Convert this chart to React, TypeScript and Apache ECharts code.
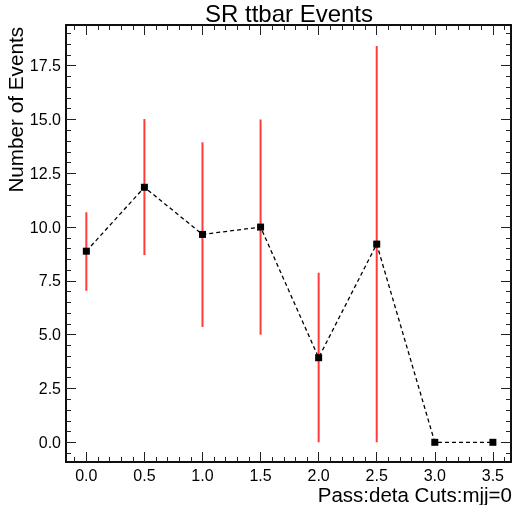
import React, { useEffect, useRef } from "react";
import * as echarts from "echarts";

// ---- data ----
const xValues = [0, 0.5, 1.0, 1.5, 2.0, 2.5, 3.0, 3.5];
const events = [8.88, 11.85, 9.66, 10.0, 3.93, 9.21, 0, 0];
const errLow = [7.04, 8.7, 5.36, 5.0, 0, 0, null, null];
const errHigh = [10.69, 15.02, 13.94, 15.0, 7.88, 18.41, null, null];
const xTickLabels = [0, 0.5, 1.0, 1.5, 2.0, 2.5, 3.0, 3.5];
const yTickLabels = [0, 2.5, 5.0, 7.5, 10.0, 12.5, 15.0, 17.5];

const X_MIN = -0.175;
const X_MAX = 3.656;
const Y_MIN = -0.915;
const Y_MAX = 19.39;

const FONT = "'Liberation Sans', Arial, Helvetica, sans-serif";

function range(start: number, end: number, step: number): number[] {
  const out: number[] = [];
  for (let v = start; v <= end + 1e-9; v += step) out.push(Math.round(v * 1000) / 1000);
  return out;
}
const xMinor = range(-0.1, 3.6, 0.1);
const yMinor = range(-0.5, 19.0, 0.5);

function axis(
  kind: "x" | "y",
  position: string,
  tickValues: number[],
  len: number,
  labels: number[] | null
) {
  return {
    type: "value",
    position,
    min: kind === "x" ? X_MIN : Y_MIN,
    max: kind === "x" ? X_MAX : Y_MAX,
    axisLine: { show: true, onZero: false, lineStyle: { color: "#000", width: 1.5 } },
    axisTick: {
      show: true,
      inside: true,
      length: len,
      customValues: tickValues,
      lineStyle: { color: "#222", width: 1 },
    },
    axisLabel: labels
      ? {
          show: true,
          customValues: labels,
          formatter: (v: number) => v.toFixed(1),
          margin: 5,
          color: "#000",
          fontSize: 16,
          fontFamily: FONT,
        }
      : { show: false },
    splitLine: { show: false },
  };
}

function label(text: string, x: number, y: number, size: number, align: string, rotation = 0) {
  return {
    type: "text",
    x,
    y,
    rotation,
    style: {
      text,
      fontSize: size,
      fontFamily: FONT,
      fill: "#000",
      align,
      verticalAlign: "middle",
      textAlign: align,
      textVerticalAlign: "middle",
    },
  };
}

export default function App() {
  const ref = useRef<HTMLDivElement>(null);
  useEffect(() => {
    if (!ref.current) return;
    const chart = echarts.init(ref.current, null, { renderer: "svg" });
    const errData = xValues
      .map((x, i) => [x, errLow[i], errHigh[i]])
      .filter((d) => d[1] !== null && d[2] !== null);
    chart.setOption({
      animation: false,
      grid: { left: 66, right: 3, top: 25, bottom: 43, containLabel: false },
      xAxis: [
        axis("x", "bottom", xTickLabels, 10, xTickLabels),
        axis("x", "bottom", xMinor, 5, null),
        axis("x", "top", xTickLabels, 10, null),
        axis("x", "top", xMinor, 5, null),
      ],
      yAxis: [
        axis("y", "left", yTickLabels, 10, yTickLabels),
        axis("y", "left", yMinor, 5, null),
        axis("y", "right", yTickLabels, 10, null),
        axis("y", "right", yMinor, 5, null),
      ],
      graphic: [
        label("SR ttbar Events", 289, 13, 24, "center"),
        label("Number of Events", 15, 27, 20.7, "right", Math.PI / 2),
        label("Pass:deta Cuts:mjj=0", 512, 494, 20.5, "right"),
      ],
      series: [
        {
          type: "custom",
          xAxisIndex: 0,
          yAxisIndex: 0,
          z: 1,
          data: errData,
          renderItem: (params: any, api: any) => {
            const p1 = api.coord([api.value(0), api.value(1)]);
            const p2 = api.coord([api.value(0), api.value(2)]);
            return {
              type: "line",
              shape: { x1: p1[0], y1: p1[1], x2: p2[0], y2: p2[1] },
              style: { stroke: "#ff3b3b", lineWidth: 2 },
            };
          },
        },
        {
          type: "line",
          xAxisIndex: 0,
          yAxisIndex: 0,
          z: 3,
          data: xValues.map((x, i) => [x, events[i]]),
          symbol: "rect",
          symbolSize: 7,
          lineStyle: { color: "#000", width: 1.3, type: [4, 3] },
          itemStyle: { color: "#000" },
        },
      ],
    });
    return () => chart.dispose();
  }, []);
  return (
    <div
      ref={ref}
      style={{ position: "fixed", left: 0, top: 0, width: 514, height: 505 }}
    />
  );
}
